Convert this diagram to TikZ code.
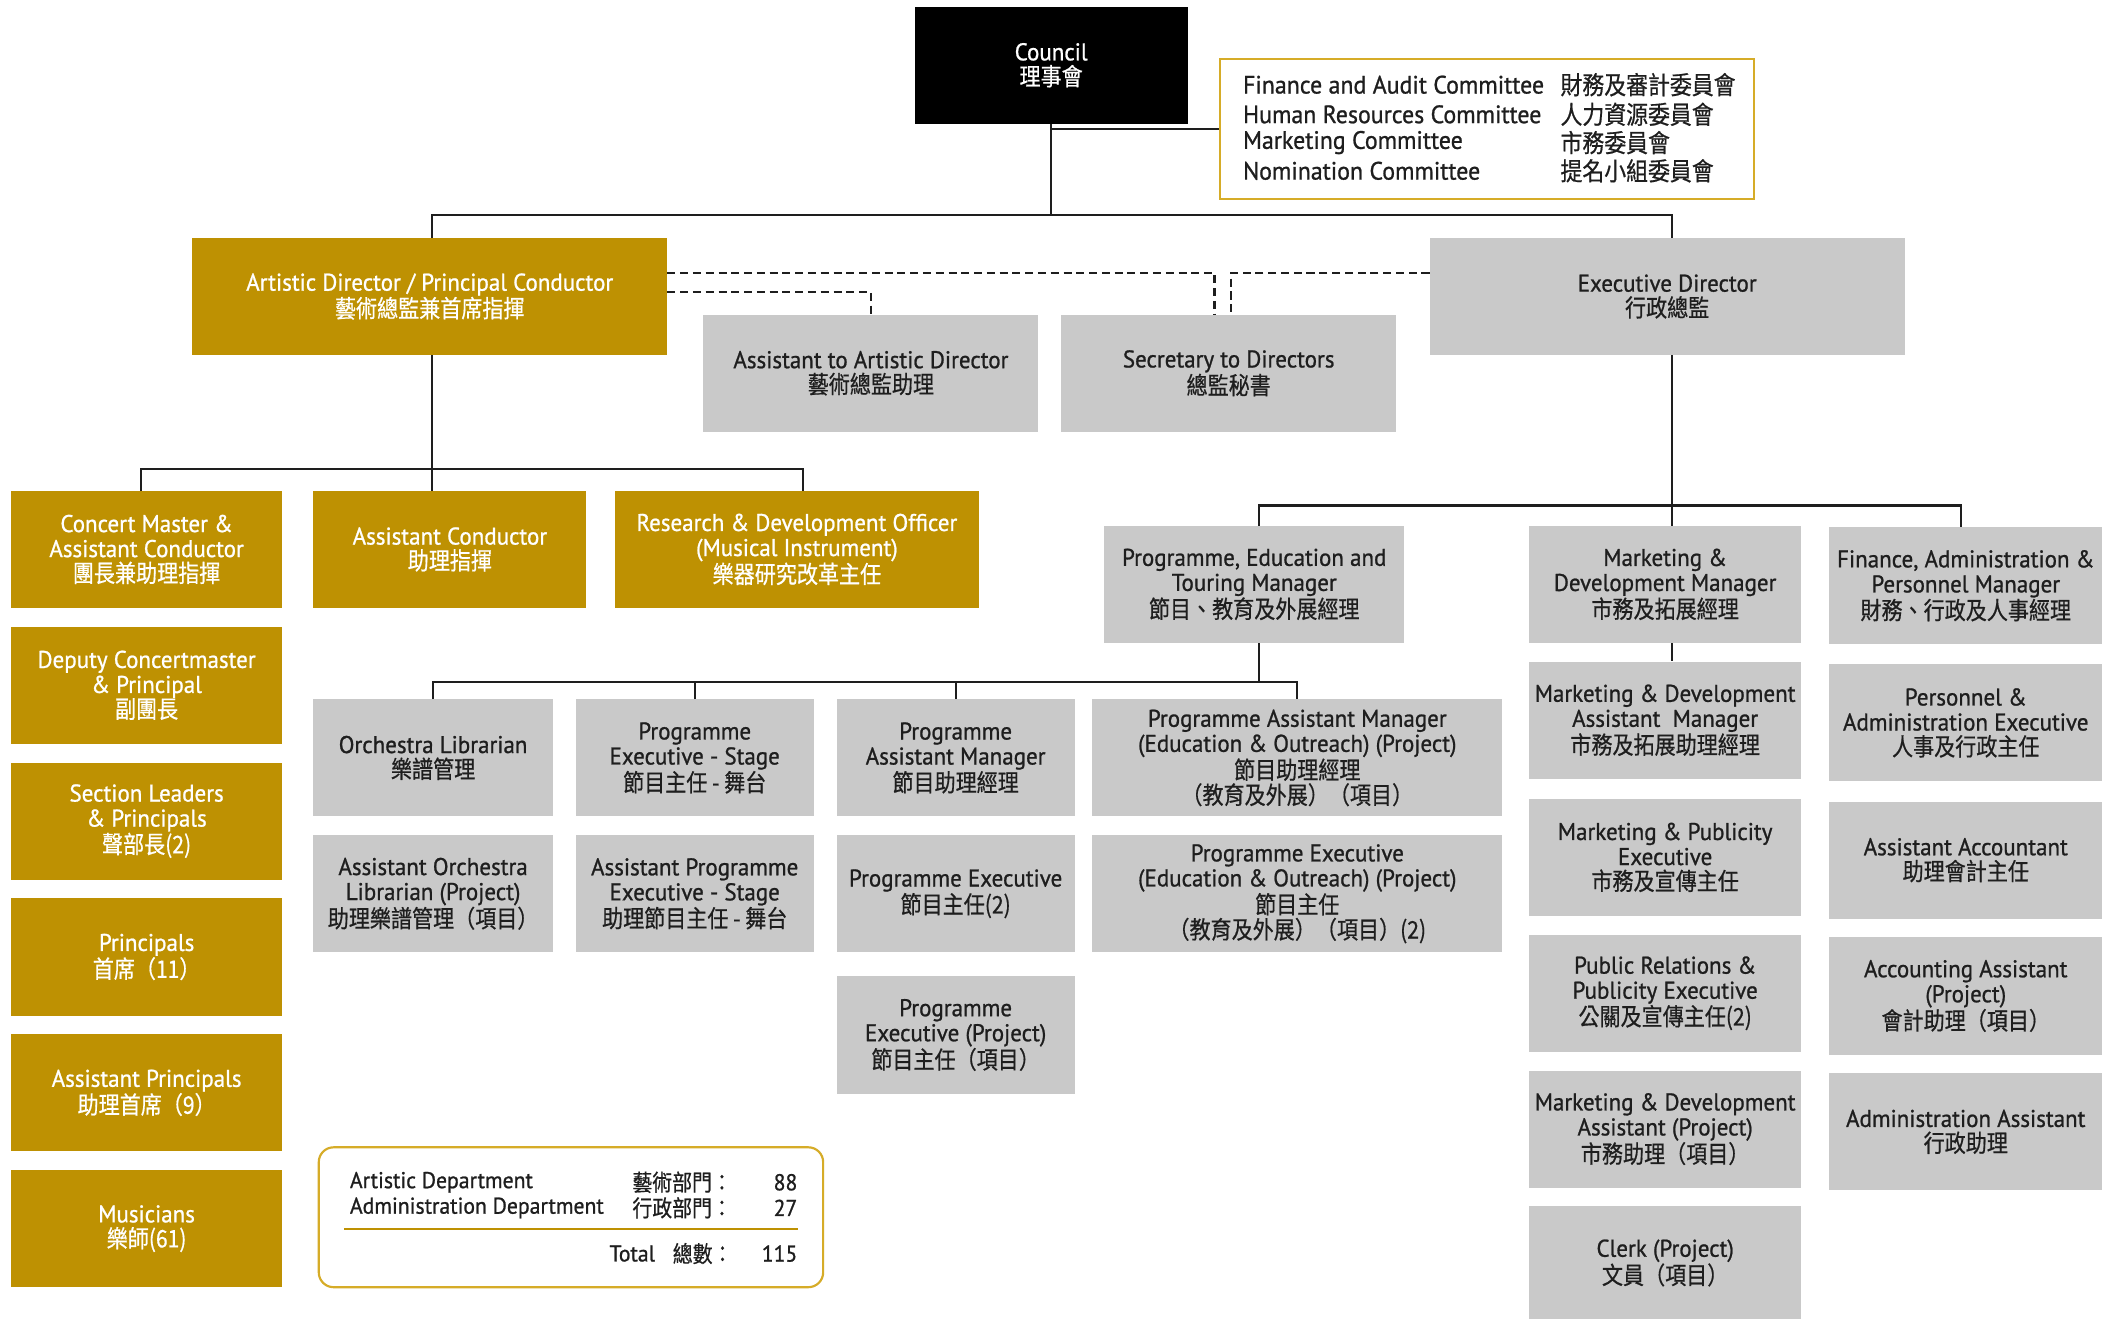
\documentclass[tikz,border=0pt]{standalone}
\usepackage{fontspec}
\setmainfont{PT Sans}[FakeStretch=0.95, FakeBold=0.9]
\newfontfamily\cjk{Noto Sans CJK TC}[FakeStretch=0.87, FakeBold=0.6]
\definecolor{gold}{RGB}{190,145,2}
\definecolor{boxgray}{RGB}{201,201,201}
\definecolor{ink}{RGB}{30,30,30}
\definecolor{lgold}{RGB}{214,172,40}
\newcommand\fs{\fontsize{18}{18.6}\selectfont}
\newcommand\ob[7]{\node[#1, minimum width={(#5-#3)*1pt}, minimum height={(#6-#4)*1pt}] (#2) at ({(#3+#5)/2},{(#4+#6)/2}) {#7};}
\tikzset{
  base/.style={rectangle, inner sep=0pt, align=center, font=\fs},
  gbox/.style={base, fill=gold, text=white},
  ybox/.style={base, fill=boxgray, text=ink},
  kbox/.style={base, fill=black, text=white},
  conn/.style={line width=1.6pt, ink},
  dashl/.style={line width=1.6pt, ink, dash pattern=on 6pt off 3.5pt},
  tline/.style={anchor=west, inner sep=0pt, font=\fontsize{18.7}{19}\selectfont, text=ink},
  sline/.style={inner sep=0pt, font=\fontsize{17}{18}\selectfont, text=ink},
}
\begin{document}
\begin{tikzpicture}[x=1pt,y=-1pt]
\useasboundingbox[fill=white] (0,0) rectangle (1568,981);
% top
\ob{kbox}{council}{680}{5}{883}{92}{Council\\{\cjk 理事會}}
\node[draw=lgold, line width=1.6pt, rectangle, minimum width=397pt, minimum height=104pt, inner sep=0pt] (comm) at (1105.5,96) {};
\node[tline] (c1) at (924,63) {Finance and Audit Committee};
\node[tline] (c2) at (924,85) {Human Resources Committee};
\node[tline] (c3) at (924,106) {Marketing Committee};
\node[tline] (c4) at (924,127) {Nomination Committee};
\node[tline] (k1) at (1160,63) {\cjk 財務及審計委員會};
\node[tline] (k2) at (1160,85) {\cjk 人力資源委員會};
\node[tline] (k3) at (1160,106) {\cjk 市務委員會};
\node[tline] (k4) at (1160,127) {\cjk 提名小組委員會};
% directors
\ob{gbox}{ad}{143}{177}{496}{264}{Artistic Director / Principal Conductor\\{\cjk 藝術總監兼首席指揮}}
\ob{ybox}{ed}{1063}{177}{1416}{264}{Executive Director\\{\cjk 行政總監}}
\ob{ybox}{aad}{523}{234}{772}{321}{Assistant to Artistic Director\\{\cjk 藝術總監助理}}
\ob{ybox}{sec}{789}{234}{1038}{321}{Secretary to Directors\\{\cjk 總監秘書}}
% artistic
\ob{gbox}{cm}{8}{365}{210}{452}{Concert Master \&\\Assistant Conductor\\{\cjk 團長兼助理指揮}}
\ob{gbox}{dc}{8}{466}{210}{553}{Deputy Concertmaster\\\& Principal\\{\cjk 副團長}}
\ob{gbox}{sl}{8}{567}{210}{654}{Section Leaders\\\& Principals\\{\cjk 聲部長(2)}}
\ob{gbox}{pr}{8}{668}{210}{755}{Principals\\{\cjk 首席（11）}}
\ob{gbox}{ap}{8}{769}{210}{856}{Assistant Principals\\{\cjk 助理首席（9）}}
\ob{gbox}{mu}{8}{870}{210}{957}{Musicians\\{\cjk 樂師(61)}}
\ob{gbox}{ac}{233}{365}{436}{452}{Assistant Conductor\\{\cjk 助理指揮}}
\ob{gbox}{rd}{457}{365}{728}{452}{Research \& Development Officer\\(Musical Instrument)\\{\cjk 樂器研究改革主任}}
% executive managers
\ob{ybox}{petm}{821}{391}{1044}{478}{Programme, Education and\\Touring Manager\\{\cjk 節目、教育及外展經理}}
\ob{ybox}{mdm}{1137}{391}{1339}{478}{Marketing \&\\Development Manager\\{\cjk 市務及拓展經理}}
\ob{ybox}{fapm}{1360}{392}{1563}{479}{Finance, Administration \&\\Personnel Manager\\{\cjk 財務、行政及人事經理}}
% programme team
\ob{ybox}{ol}{233}{520}{411}{607}{Orchestra Librarian\\{\cjk 樂譜管理}}
\ob{ybox}{pes}{428}{520}{605}{607}{Programme\\Executive - Stage\\{\cjk 節目主任 - 舞台}}
\ob{ybox}{pam}{622}{520}{799}{607}{Programme\\Assistant Manager\\{\cjk 節目助理經理}}
\ob{ybox}{pame}{812}{520}{1117}{607}{Programme Assistant Manager\\(Education \& Outreach) (Project)\\{\cjk 節目助理經理}\\{\cjk （教育及外展）（項目）}}
\ob{ybox}{aol}{233}{621}{411}{708}{Assistant Orchestra\\Librarian (Project)\\{\cjk 助理樂譜管理（項目）}}
\ob{ybox}{apes}{428}{621}{605}{708}{Assistant Programme\\Executive - Stage\\{\cjk 助理節目主任 - 舞台}}
\ob{ybox}{pe}{622}{621}{799}{708}{Programme Executive\\{\cjk 節目主任(2)}}
\ob{ybox}{pee}{812}{621}{1117}{708}{Programme Executive\\(Education \& Outreach) (Project)\\{\cjk 節目主任}\\{\cjk （教育及外展）（項目）(2)}}
\ob{ybox}{pep}{622}{726}{799}{813}{Programme\\Executive (Project)\\{\cjk 節目主任（項目）}}
% marketing
\ob{ybox}{mdam}{1137}{492}{1339}{579}{Marketing \& Development\\Assistant~ Manager\\{\cjk 市務及拓展助理經理}}
\ob{ybox}{mpe}{1137}{594}{1339}{681}{Marketing \& Publicity\\Executive\\{\cjk 市務及宣傳主任}}
\ob{ybox}{prpe}{1137}{695}{1339}{782}{Public Relations \&\\Publicity Executive\\{\cjk 公關及宣傳主任(2)}}
\ob{ybox}{mdap}{1137}{796}{1339}{883}{Marketing \& Development\\Assistant (Project)\\{\cjk 市務助理（項目）}}
\ob{ybox}{clerk}{1137}{897}{1339}{981}{Clerk (Project)\\{\cjk 文員（項目）}}
% finance
\ob{ybox}{pae}{1360}{494}{1563}{581}{Personnel \&\\Administration Executive\\{\cjk 人事及行政主任}}
\ob{ybox}{aacc}{1360}{596}{1563}{683}{Assistant Accountant\\{\cjk 助理會計主任}}
\ob{ybox}{accp}{1360}{697}{1563}{784}{Accounting Assistant\\(Project)\\{\cjk 會計助理（項目）}}
\ob{ybox}{adma}{1360}{798}{1563}{885}{Administration Assistant\\{\cjk 行政助理}}
% connectors
\coordinate (cj) at (council.south |- comm.west);
\draw[conn] (council.south) -- (council.south |- 0,160);
\draw[conn] (cj) -- (comm.west);
\draw[conn] ([xshift=1.5pt]ad.north) -- ++(0,-17) -| ([xshift=3.5pt]ed.north);
\draw[dashl] ([yshift=17.5pt]ad.east) -| ([xshift=-10.5pt]sec.north);
\draw[dashl] ([yshift=17.5pt]ed.west) -| ([xshift=1.5pt]sec.north);
\draw[dashl] ([yshift=3.5pt]ad.east) -| (aad.north);
\draw[conn] ([xshift=1.5pt]ad.south) -- ([xshift=1.5pt]ad.south |- ac.north);
\draw[conn] ([xshift=-4pt]cm.north) -- ++(0,-16) -| ([xshift=4.5pt]rd.north);
\draw[conn] ([xshift=3.5pt]ed.south) -- ([xshift=3.5pt]ed.south |- mdm.north);
\draw[conn] ([xshift=3.5pt]petm.north) -- ++(0,-15) -| ([xshift=-3.5pt]fapm.north);
\draw[conn] ([xshift=5pt]mdm.south) -- ([xshift=5pt]mdam.north);
\coordinate (pj) at ([xshift=3.5pt]petm.south |- 0,507);
\draw[conn] ([xshift=3.5pt]petm.south) -- (pj);
\draw[conn] (ol.north) -- ++(0,-13) -| (pame.north);
\draw[conn] (pes.north) -- ++(0,-13);
\draw[conn] (pam.north) -- ++(0,-13);
% summary
\draw[lgold, line width=1.6pt, rounded corners=11pt] (237,853) rectangle (612,957);
\node[sline, anchor=west] (s1) at (260,879) {Artistic Department};
\node[sline, anchor=west] (s2) at (260,898) {Administration Department};
\node[sline, anchor=west] (s3) at (470,879) {\cjk 藝術部門：};
\node[sline, anchor=west] (s4) at (470,898) {\cjk 行政部門：};
\node[sline, anchor=east] (s5) at (593,879) {88};
\node[sline, anchor=east] (s6) at (593,898) {27};
\draw[gold, line width=1.6pt] (256,914) -- (593,914);
\node[sline, anchor=west] (s7) at (453,932) {Total};
\node[sline, anchor=west] (s8) at (500,932) {\cjk 總數：};
\node[sline, anchor=east] (s9) at (593,932) {115};
\end{tikzpicture}
\end{document}
